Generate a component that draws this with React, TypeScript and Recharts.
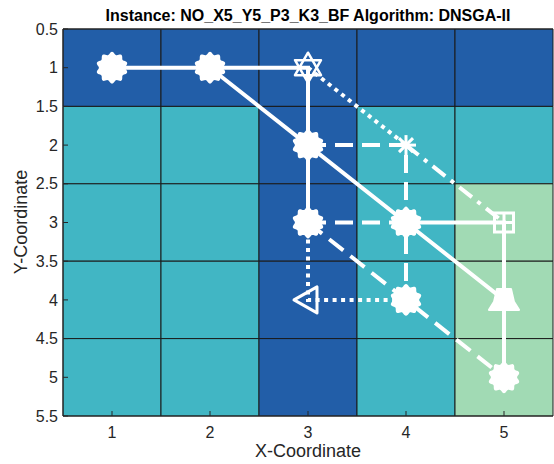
import React from 'react';
import { ComposedChart, XAxis, YAxis, ReferenceArea, Line, Scatter } from 'recharts';

const xTicks = [1, 2, 3, 4, 5];
const yTicks = [0.5, 1, 1.5, 2, 2.5, 3, 3.5, 4, 4.5, 5, 5.5];

// cell colour per row (y = 1..5), columns x = 1..5
const palette: Record<string, string> = { B: '#225EA8', T: '#41B6C4', G: '#A1DAB4' };
const cellRows = ['BBBBB', 'TTBTT', 'TTBTG', 'TTBTG', 'TTBTG'];

// path segments
const solidA = [{ x: 1, y: 1 }, { x: 2, y: 1 }, { x: 3, y: 1 }, { x: 3, y: 2 }, { x: 3, y: 3 }];
const solidB = [{ x: 2, y: 1 }, { x: 3, y: 2 }, { x: 4, y: 3 }, { x: 5, y: 4 }, { x: 5, y: 5 }];
const solidC = [{ x: 4, y: 3 }, { x: 5, y: 3 }, { x: 5, y: 4 }];
const dashedA = [{ x: 3, y: 2 }, { x: 4, y: 2 }, { x: 4, y: 3 }, { x: 4, y: 4 }];
const dashedB = [{ x: 3, y: 3 }, { x: 4, y: 3 }];
const dashedC = [{ x: 3, y: 3 }, { x: 4, y: 4 }, { x: 5, y: 5 }];
const dottedA = [{ x: 3, y: 1 }, { x: 4, y: 2 }];
const dottedB = [{ x: 3, y: 3 }, { x: 3, y: 4 }, { x: 4, y: 4 }];
const dashDot = [{ x: 4, y: 2 }, { x: 5, y: 3 }];

// markers
const blobPts = [{ x: 1, y: 1 }, { x: 2, y: 1 }, { x: 3, y: 2 }, { x: 3, y: 3 }, { x: 4, y: 3 }, { x: 4, y: 4 }, { x: 5, y: 5 }];
const hexPts = [{ x: 3, y: 1 }];
const asteriskPts = [{ x: 4, y: 2 }];
const squarePts = [{ x: 5, y: 3 }];
const triUpPts = [{ x: 5, y: 4 }];
const triLeftPts = [{ x: 3, y: 4 }];

const W = '#ffffff';
const font = 'Liberation Sans, Arial, sans-serif';

const Blob = ({ cx, cy }: any) => {
  const pts: string[] = [];
  for (let i = 0; i < 120; i++) {
    const a = (i / 120) * Math.PI * 2;
    const r = 14.5 + 1.4 * Math.cos(10 * a);
    pts.push(`${cx + r * Math.sin(a)},${cy - r * Math.cos(a)}`);
  }
  return <polygon points={pts.join(' ')} fill={W} />;
};

const Hexagram = ({ cx, cy }: any) => {
  const tri = (off: number) =>
    [0, 1, 2]
      .map((k) => {
        const a = off + (k * 2 * Math.PI) / 3;
        return `${cx + 15 * Math.sin(a)},${cy - 15 * Math.cos(a)}`;
      })
      .join(' ');
  return (
    <g fill="none" stroke={W} strokeWidth={2.5} strokeLinejoin="round">
      <polygon points={tri(0)} />
      <polygon points={tri(Math.PI)} />
    </g>
  );
};

const Asterisk = ({ cx, cy }: any) => (
  <g stroke={W} strokeWidth={3}>
    <line x1={cx - 10} y1={cy} x2={cx + 10} y2={cy} />
    <line x1={cx} y1={cy - 10} x2={cx} y2={cy + 10} />
    <line x1={cx - 7} y1={cy - 7} x2={cx + 7} y2={cy + 7} />
    <line x1={cx - 7} y1={cy + 7} x2={cx + 7} y2={cy - 7} />
  </g>
);

const SquareMark = ({ cx, cy }: any) => (
  <g stroke={W} strokeWidth={3} fill="none">
    <rect x={cx - 9.5} y={cy - 9.5} width={19} height={19} />
    <line x1={cx - 9} y1={cy} x2={cx + 9} y2={cy} />
    <line x1={cx} y1={cy - 9} x2={cx} y2={cy + 9} />
  </g>
);

const TriUp = ({ cx, cy }: any) => (
  <path
    d={`M${cx - 7},${cy - 11} L${cx + 7},${cy - 11} L${cx + 10},${cy + 2} L${cx + 15},${cy + 10} L${cx - 15},${cy + 10} L${cx - 10},${cy + 2} Z`}
    fill={W}
    stroke={W}
    strokeWidth={2}
    strokeLinejoin="round"
  />
);

const TriLeft = ({ cx, cy }: any) => (
  <polygon
    points={`${cx - 14},${cy} ${cx + 9},${cy - 13} ${cx + 9},${cy + 13}`}
    fill="none"
    stroke={W}
    strokeWidth={3}
    strokeLinejoin="round"
  />
);

const paths = [
  { data: solidA, dash: undefined },
  { data: solidB, dash: undefined },
  { data: solidC, dash: undefined },
  { data: dashedA, dash: '18 9' },
  { data: dashedB, dash: '18 9' },
  { data: dashedC, dash: '18 9' },
  { data: dottedA, dash: '4 4.5' },
  { data: dottedB, dash: '4 4.5' },
  { data: dashDot, dash: '16 7 4 7' },
];

const markers = [
  { data: blobPts, shape: Blob },
  { data: hexPts, shape: Hexagram },
  { data: asteriskPts, shape: Asterisk },
  { data: squarePts, shape: SquareMark },
  { data: triUpPts, shape: TriUp },
  { data: triLeftPts, shape: TriLeft },
];

const tickStyle = { fill: '#262626', fontSize: 16, fontFamily: font };

export default function App() {
  return (
    <div style={{ position: 'absolute', left: 0, top: 0, width: 554, height: 464, background: '#fff' }}>
      <ComposedChart width={554} height={464} margin={{ top: 28, right: 0, bottom: 47, left: 62 }}>
        <XAxis
          dataKey="x"
          type="number"
          domain={[0.5, 5.5]}
          ticks={xTicks}
          height={1}
          tickSize={-5}
          tickMargin={16}
          tick={tickStyle}
          stroke="#262626"
          allowDataOverflow
          zIndex={1000}
        />
        <XAxis
          xAxisId="top"
          orientation="top"
          dataKey="x"
          type="number"
          domain={[0.5, 5.5]}
          ticks={xTicks}
          height={1}
          tickSize={-5}
          tick={false}
          stroke="#262626"
          zIndex={1000}
        />
        <YAxis
          dataKey="y"
          type="number"
          domain={[0.5, 5.5]}
          ticks={yTicks}
          reversed
          width={1}
          tickSize={-5}
          tickMargin={10}
          tick={tickStyle}
          stroke="#262626"
          allowDataOverflow
          zIndex={1000}
        />
        <YAxis
          yAxisId="right"
          orientation="right"
          dataKey="y"
          type="number"
          domain={[0.5, 5.5]}
          ticks={yTicks}
          reversed
          width={1}
          tickSize={-5}
          tick={false}
          stroke="#262626"
          axisLine={false}
          zIndex={1000}
        />
        {cellRows.map((row, ri) =>
          row.split('').map((c, ci) => (
            <ReferenceArea
              key={`c-${ri}-${ci}`}
              x1={ci + 0.5}
              x2={ci + 1.5}
              y1={ri + 0.5}
              y2={ri + 1.5}
              fill={palette[c]}
              fillOpacity={1}
              stroke="#1a1a1a"
              strokeWidth={1}
            />
          ))
        )}
        {paths.map((p, i) => (
          <Line
            key={`p-${i}`}
            data={p.data}
            dataKey="y"
            type="linear"
            stroke={W}
            strokeWidth={4}
            strokeDasharray={p.dash}
            dot={false}
            activeDot={false}
            isAnimationActive={false}
          />
        ))}
        {markers.map((m, i) => (
          <Scatter
            key={`m-${i}`}
            data={m.data}
            dataKey="y"
            shape={(props: any) => <m.shape cx={props.cx} cy={props.cy} />}
            isAnimationActive={false}
          />
        ))}
      </ComposedChart>
      <div
        style={{
          position: 'absolute', left: 63, width: 490, top: 7, textAlign: 'center',
          fontFamily: font, fontSize: 16, fontWeight: 'bold', color: '#000',
        }}
      >
        Instance: NO_X5_Y5_P3_K3_BF Algorithm: DNSGA-II
      </div>
      <div
        style={{
          position: 'absolute', left: 63, width: 490, top: 441, textAlign: 'center',
          fontFamily: font, fontSize: 18, color: '#262626',
        }}
      >
        X-Coordinate
      </div>
      <div
        style={{
          position: 'absolute', left: 21, top: 222, width: 0, height: 0,
        }}
      >
        <div
          style={{
            position: 'absolute', left: -100, top: -11, width: 200, textAlign: 'center',
            transform: 'rotate(-90deg)', fontFamily: font, fontSize: 18, color: '#262626',
            lineHeight: '22px',
          }}
        >
          Y-Coordinate
        </div>
      </div>
    </div>
  );
}
